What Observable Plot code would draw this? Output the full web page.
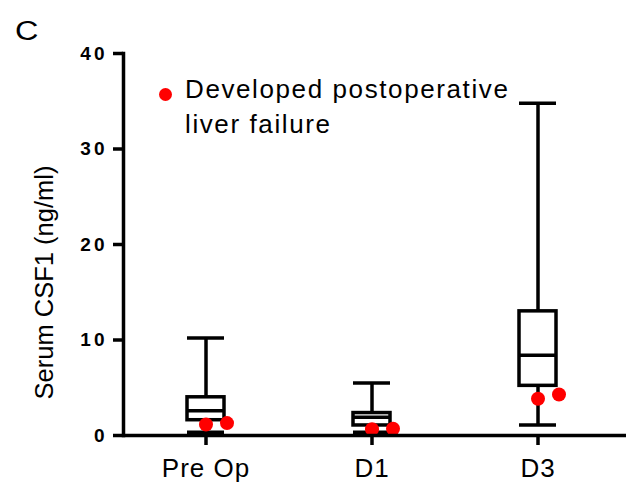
<!DOCTYPE html>
<html>
<head>
<meta charset="utf-8">
<script src="https://cdn.jsdelivr.net/npm/d3@7"></script>
<script src="https://cdn.jsdelivr.net/npm/@observablehq/plot@0.6"></script>
<style>
  body { margin: 0; background: #fff; }
  #wrap { position: relative; width: 628px; height: 490px; font-family: "Liberation Sans", Arial, sans-serif; color: #000; }
  #panel { position: absolute; left: 15px; top: 17px; font-size: 27px; line-height: 28px; transform: scaleX(1.2); transform-origin: left top; }
  #legend { position: absolute; left: 158px; top: 72px; font-size: 26px; line-height: 35px; letter-spacing: 1.6px; }
  #legend .dot { position: absolute; left: 1px; top: 16px; width: 13px; height: 13px; border-radius: 50%; background: #ff0000; }
  #legend .txt { position: absolute; left: 27px; top: 0; white-space: nowrap; }
  #chart { position: absolute; left: 0; top: 0; }
</style>
</head>
<body>
<div id="wrap">
  <div id="chart"></div>
  <div id="panel">C</div>
  <div id="legend"><div class="dot"></div><div class="txt">Developed postoperative<br>liver failure</div></div>
</div>
<script>
const categories = ["Pre Op", "D1", "D3"];
const whiskerLow = [0.35, 0.35, 1.1];
const q1 = [1.6, 1.05, 5.2];
const median = [2.6, 1.9, 8.4];
const q3 = [4.0, 2.35, 13.0];
const whiskerHigh = [10.2, 5.5, 34.8];
const failureFirst = [1.15, 0.65, 3.85];
const failureSecond = [1.3, 0.7, 4.3];
const yTicks = [0, 10, 20, 30, 40];
const yLabel = "Serum CSF1 (ng/ml)";

const rows = categories.map((c, i) => ({
  cat: c, lo: whiskerLow[i], q1: q1[i], med: median[i], q3: q3[i], hi: whiskerHigh[i],
  a: failureFirst[i], b: failureSecond[i]
}));

const SW = 3.5;
const chart = Plot.plot({
  width: 628, height: 490,
  marginLeft: 123, marginRight: 2, marginTop: 53, marginBottom: 55,
  style: { fontFamily: "'Liberation Sans', Arial, sans-serif", background: "white", color: "black" },
  x: { type: "band", domain: categories, paddingInner: 0.778, paddingOuter: 0.4, align: 0.48 },
  y: { domain: [0, 40] },
  marks: [
    Plot.ruleX(rows, { x: "cat", y1: "lo", y2: "hi", stroke: "black", strokeWidth: SW }),
    Plot.barY(rows, { x: "cat", y1: "q1", y2: "q3", fill: "white", stroke: "black", strokeWidth: SW }),
    Plot.tickY(rows, { x: "cat", y: "med", stroke: "black", strokeWidth: SW }),
    Plot.tickY(rows, { x: "cat", y: "lo", stroke: "black", strokeWidth: SW }),
    Plot.tickY(rows, { x: "cat", y: "hi", stroke: "black", strokeWidth: SW }),
    Plot.dot(rows, { x: "cat", y: "a", r: 7, fill: "#ff0000" }),
    Plot.dot(rows, { x: "cat", y: "b", r: 7, fill: "#ff0000", dx: 21 }),
    Plot.ruleY([0], { stroke: "black", strokeWidth: SW }),
    Plot.frame({ anchor: "left", stroke: "black", strokeWidth: SW }),
    Plot.axisX({ tickSize: 10, tickPadding: 13, strokeWidth: SW, fontSize: 26, label: null }),
    Plot.axisY({ ticks: yTicks, tickSize: 10, tickPadding: 6, strokeWidth: SW, fontSize: 19, fontWeight: "bold", label: null }),
    Plot.text([yLabel], { frameAnchor: "left", textAnchor: "middle", rotate: -90, dx: -79, dy: 38, fontSize: 25.5, text: d => d })
  ]
});
chart.querySelectorAll("g[aria-label='y-axis tick label'] text").forEach(t => t.setAttribute("letter-spacing", "3px"));
chart.querySelectorAll("g[aria-label='x-axis tick label'] text").forEach(t => t.setAttribute("letter-spacing", "1px"));
document.getElementById("chart").appendChild(chart);
</script>
</body>
</html>
